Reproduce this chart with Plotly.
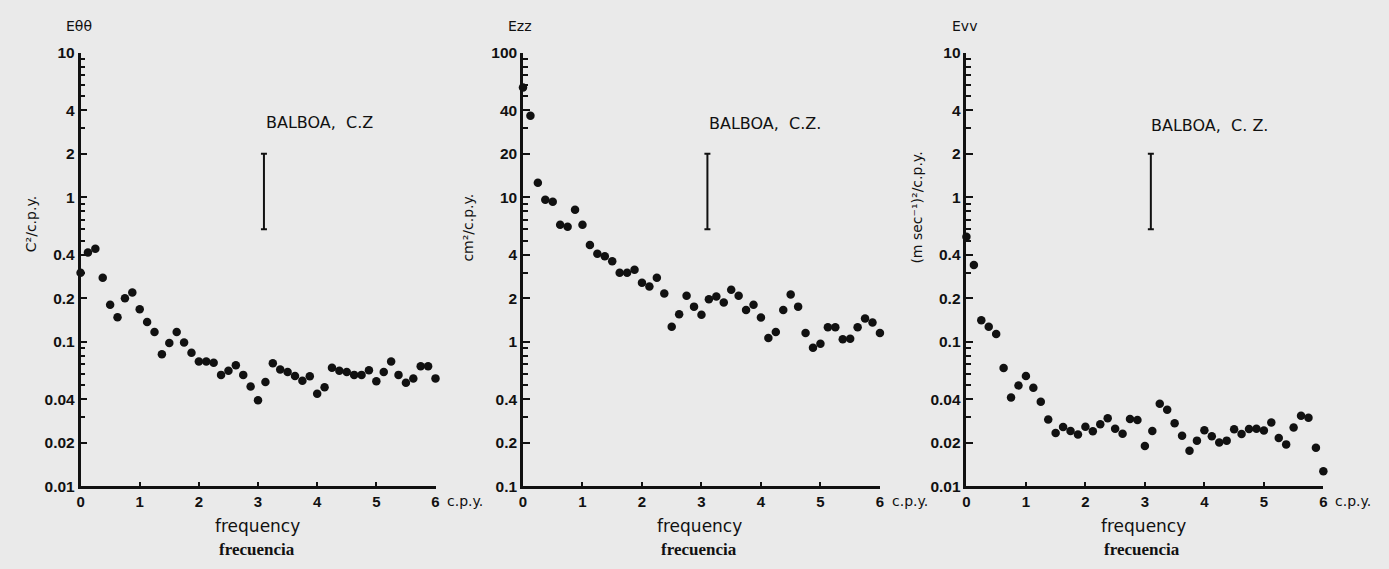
import plotly.graph_objects as go

W, H = 1389, 569

# ---------------- data ----------------
freq = [i * 0.125 for i in range(49)]  # 0 .. 6 c.p.y. in steps of 1/8

e_theta = [0.30, 0.414, 0.44, 0.277, 0.18, 0.148, 0.20, 0.219, 0.168, 0.137,
           0.117, 0.082, 0.098, 0.117, 0.099, 0.084, 0.073, 0.073, 0.0716, 0.059,
           0.063, 0.0687, 0.059, 0.049, 0.0394, 0.0527, 0.0711, 0.0643, 0.0617, 0.058,
           0.0537, 0.0577, 0.0436, 0.0484, 0.066, 0.063, 0.0617, 0.059, 0.059, 0.0636,
           0.0533, 0.0617, 0.073, 0.059, 0.052, 0.0556, 0.0676, 0.0676, 0.0558]

e_zz = [57.3, 36.6, 12.6, 9.6, 9.3, 6.45, 6.25, 8.2, 6.45, 4.67,
        4.06, 3.9, 3.6, 3.0, 3.0, 3.15, 2.56, 2.41, 2.77, 2.16,
        1.27, 1.55, 2.08, 1.75, 1.54, 1.97, 2.06, 1.87, 2.29, 2.08,
        1.66, 1.80, 1.47, 1.06, 1.17, 1.66, 2.12, 1.75, 1.15, 0.91,
        0.97, 1.26, 1.26, 1.04, 1.05, 1.26, 1.45, 1.36, 1.15]

e_vv = [0.533, 0.339, 0.141, 0.127, 0.113, 0.0659, 0.0412, 0.0499, 0.058, 0.0481,
        0.0385, 0.029, 0.0234, 0.0257, 0.0241, 0.0228, 0.0258, 0.024, 0.0269, 0.0296,
        0.025, 0.0231, 0.0292, 0.0288, 0.019, 0.0241, 0.0372, 0.0338, 0.0273, 0.0224,
        0.0176, 0.0207, 0.0244, 0.0222, 0.0201, 0.0207, 0.0248, 0.023, 0.0249, 0.025,
        0.0243, 0.0276, 0.0216, 0.0195, 0.0255, 0.0308, 0.0298, 0.0185, 0.0127]

# confidence bars (x position, low, high)
ci_theta = (3.1, 0.6, 2.0)
ci_zz = (3.1, 6.0, 20.0)
ci_vv = (3.1, 0.6, 2.0)

x_ticks = [0, 1, 2, 3, 4, 5, 6]
x_ticktext = ["0", "1", "2", "3", "4", "5", "6"]

y_ticks_a = [0.01, 0.02, 0.04, 0.1, 0.2, 0.4, 1, 2, 4, 10]
y_text_a = ["0.01", "0.02", "0.04", "0.1", "0.2", "0.4", "1", "2", "4", "10"]
y_ticks_b = [0.1, 0.2, 0.4, 1, 2, 4, 10, 20, 40, 100]
y_text_b = ["0.1", "0.2", "0.4", "1", "2", "4", "10", "20", "40", "100"]

titles = ["Eθθ", "Ezz", "Evv"]
ylabels = ["C²/c.p.y.", "cm²/c.p.y.", "(m sec⁻¹)²/c.p.y."]
station = ["BALBOA,  C.Z", "BALBOA,  C.Z.", "BALBOA,  C. Z."]


def minor_vals(lo_exp, hi_exp):
    out = []
    for e in range(lo_exp, hi_exp):
        for m in range(2, 10):
            out.append(m * 10 ** e)
    return out


def px(x):  # page pixel -> paper fraction
    return x / W


def py(y):
    return 1 - y / H


# ---------------- layout geometry (page pixels) ----------------
panels = [
    dict(x0=77, x1=434, series=e_theta, ci=ci_theta, yr=[-2, 1], yt=y_ticks_a, ytt=y_text_a, mexp=(-2, 1)),
    dict(x0=522, x1=881, series=e_zz, ci=ci_zz, yr=[-1, 2], yt=y_ticks_b, ytt=y_text_b, mexp=(-1, 2)),
    dict(x0=968, x1=1327, series=e_vv, ci=ci_vv, yr=[-2, 1], yt=y_ticks_a, ytt=y_text_a, mexp=(-2, 1)),
]
ytop, ybot = 45, 492
ydom = [py(ybot), py(ytop)]

fig = go.Figure()
FONT = "DejaVu Sans"
TICKFONT = "Liberation Sans"
ink = "#111111"

layout = dict(
    width=W, height=H,
    margin=dict(l=0, r=0, t=0, b=0),
    paper_bgcolor="#eaeaea", plot_bgcolor="rgba(0,0,0,0)",
    showlegend=False,
    font=dict(family=FONT, color=ink),
)
annotations = []

for i, p in enumerate(panels):
    n = "" if i == 0 else str(i + 1)
    xa, ya = "x" + n, "y" + n
    fig.add_trace(go.Scatter(
        x=freq, y=p["series"], mode="markers", xaxis=xa, yaxis=ya,
        marker=dict(size=8.5, color=ink), cliponaxis=False, hoverinfo="x+y"))
    cx, lo, hi = p["ci"]
    mid = (lo * hi) ** 0.5
    fig.add_trace(go.Scatter(
        x=[cx], y=[mid], mode="markers", xaxis=xa, yaxis=ya,
        marker=dict(size=0.1, color="rgba(0,0,0,0)"),
        error_y=dict(type="data", symmetric=False, array=[hi - mid], arrayminus=[mid - lo],
                     color=ink, thickness=2, width=3)))
    layout["xaxis" + n] = dict(
        domain=[px(p["x0"]), px(p["x1"])], anchor=ya, range=[0, 6],
        showline=True, linewidth=2.5, linecolor=ink, showgrid=False, zeroline=False,
        ticks="inside", ticklen=5, tickwidth=2, tickcolor=ink,
        tickvals=x_ticks, ticktext=x_ticktext,
        tickfont=dict(size=15, family=TICKFONT, color=ink, weight="bold"))
    layout["yaxis" + n] = dict(
        domain=ydom, anchor=xa, type="log", range=p["yr"],
        showline=True, linewidth=2.5, linecolor=ink, showgrid=False, zeroline=False,
        ticks="inside", ticklen=7, tickwidth=2, tickcolor=ink,
        tickvals=p["yt"], ticktext=p["ytt"],
        tickfont=dict(size=15.5, family=TICKFONT, color=ink, weight="bold"),
        minor=dict(ticks="inside", ticklen=5, tickwidth=1.5, tickcolor=ink,
                   tickvals=minor_vals(*p["mexp"])))

    def ann(text, x, y, size, family=FONT, xanchor="center", angle=0):
        annotations.append(dict(text=text, x=px(x), y=py(y), xref="paper", yref="paper",
                                xanchor=xanchor, yanchor="middle", textangle=angle, showarrow=False,
                                font=dict(size=size, family=family, color=ink)))

    ann(titles[i], p["x0"] - 17, 18, 14, xanchor="left")
    ann(ylabels[i], [28, 467, 918][i], [222, 225, 205][i], 14, angle=-90)
    ann("c.p.y.", p["x1"] + 10, 507, 14, xanchor="left")
    ann("frequency", p["x0"] + 178, 533, 17)
    ann("<b>frecuencia</b>", p["x0"] + 177, 557, 17, family="Liberation Serif")
    ann(station[i], [262, 707, 1152][i], [117, 118, 120][i], 16, xanchor="left")

layout["annotations"] = annotations
fig.update_layout(**layout)
fig.write_html(
    "out.html",
    config={"displayModeBar": False},
    post_script="document.body.style.margin='0';document.body.style.padding='0';"
                "document.body.style.overflow='hidden';",
)
